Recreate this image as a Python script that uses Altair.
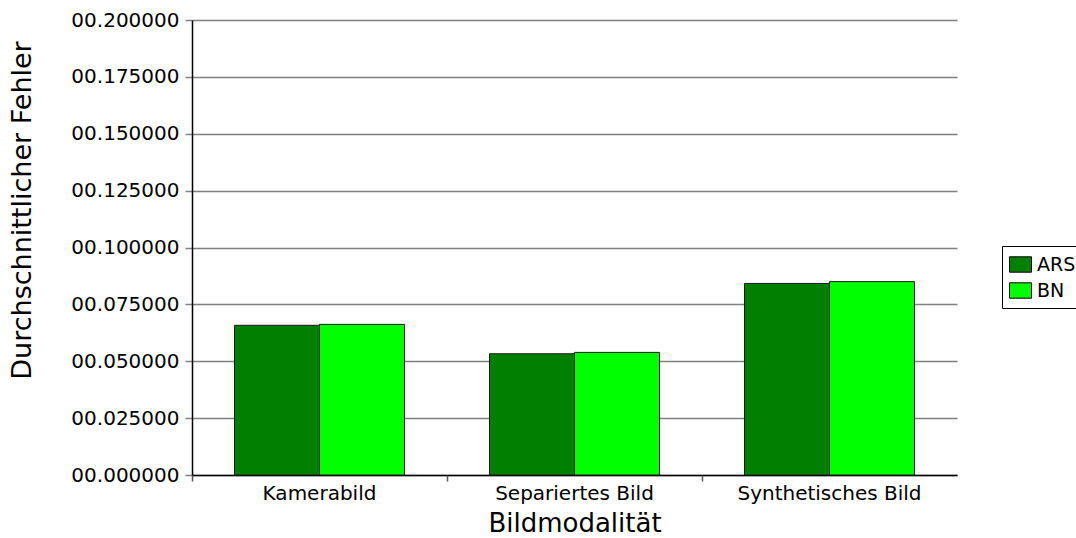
import altair as alt
import pandas as pd

# Mean error per image modality and method
categories = ["Kamerabild", "Separiertes Bild", "Synthetisches Bild"]
methods = ["ARS", "BN"]
ars_error = [0.0658, 0.0533, 0.0842]
bn_error = [0.0662, 0.0539, 0.0850]
y_ticks = [0.0, 0.025, 0.05, 0.075, 0.1, 0.125, 0.15, 0.175, 0.2]
method_colors = ["#007f00", "#00ff00"]

rows = []
for cat, a, b in zip(categories, ars_error, bn_error):
    rows.append({"Bildmodalität": cat, "Methode": "ARS", "Fehler": a})
    rows.append({"Bildmodalität": cat, "Methode": "BN", "Fehler": b})
df = pd.DataFrame(rows)

FONT = "DejaVu Sans"

x_scale = alt.Scale(domain=categories, paddingInner=0, paddingOuter=0)

bars = alt.Chart(df).mark_bar(stroke="#1a1a1a", strokeWidth=1).encode(
    x=alt.X(
        "Bildmodalität:N",
        scale=x_scale,
        axis=alt.Axis(
            orient="bottom",
            title="Bildmodalität",
            labelAngle=0,
            labelLimit=400,
            ticks=False,
            tickSize=0,
            labelPadding=24,
            labelBaseline="alphabetic",
            labelFont=FONT,
            labelFontSize=20,
            labelColor="#000000",
            titleFont=FONT,
            titleFontSize=26,
            titleFontWeight="normal",
            titleColor="#000000",
            titleX=382.5,
            titleY=56,
            titleBaseline="alphabetic",
            titleAlign="center",
            domainColor="#000000",
            domainWidth=1.5,
            grid=False,
        ),
    ),
    xOffset=alt.XOffset(
        "Methode:N",
        scale=alt.Scale(domain=methods, paddingInner=0, paddingOuter=0.5),
    ),
    y=alt.Y(
        "Fehler:Q",
        scale=alt.Scale(domain=[0, 0.2], nice=False, zero=True),
        axis=alt.Axis(
            values=y_ticks,
            format="09.6f",
            title="Durchschnittlicher Fehler",
            grid=True,
            gridColor="#808080",
            gridWidth=1.5,
            tickSize=7,
            tickColor="#808080",
            tickWidth=1.5,
            labelPadding=6,
            labelFont=FONT,
            labelFontSize=20,
            labelColor="#000000",
            domainColor="#000000",
            domainWidth=1.5,
            titleFont=FONT,
            titleFontSize=27,
            titleFontWeight="normal",
            titleColor="#000000",
            titleX=-162,
            titleY=190,
            titleAngle=270,
            titleBaseline="alphabetic",
            titleAlign="center",
        ),
    ),
    color=alt.Color(
        "Methode:N",
        scale=alt.Scale(domain=methods, range=method_colors),
        legend=alt.Legend(
            title=None,
            orient="none",
            legendX=810,
            legendY=226,
            strokeColor="#000000",
            fillColor="#ffffff",
            padding=7,
            symbolType="M-1,-0.7H1V0.7H-1Z",
            symbolSize=484,
            symbolStrokeColor="#000000",
            symbolStrokeWidth=1,
            symbolOpacity=1,
            labelFont=FONT,
            labelFontSize=19,
            labelColor="#000000",
            labelOffset=5,
            rowPadding=4,
        ),
    ),
)

# Separate axis carrying the tick marks at the band boundaries
band_ticks = alt.Chart(df).mark_point(opacity=0).encode(
    x=alt.X(
        "Bildmodalität:N",
        scale=x_scale,
        axis=alt.Axis(
            orient="bottom",
            title=None,
            labels=False,
            domain=False,
            ticks=True,
            tickSize=6,
            tickColor="#555555",
            tickWidth=1.5,
            bandPosition=0,
            grid=False,
        ),
    ),
)

chart = (
    alt.layer(bars, band_ticks)
    .resolve_axis(x="independent")
    .properties(
        width=765,
        height=455,
        padding={"left": 192, "top": 20, "right": 119, "bottom": 63},
        autosize=alt.AutoSizeParams(type="none"),
        background="#ffffff",
    )
    .configure_view(stroke=None)
)

chart.save("out.html", embed_options={"renderer": "svg", "actions": False})
